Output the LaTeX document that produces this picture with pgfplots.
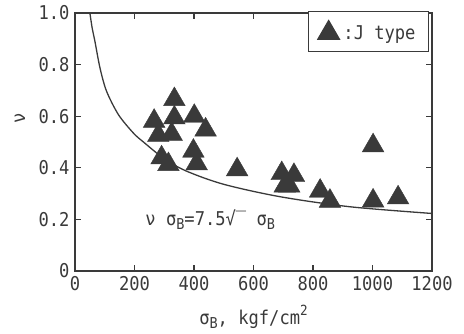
\documentclass[border=0pt]{standalone}
\usepackage{fontspec}
\setmainfont[FakeStretch=0.9]{DejaVu Sans Mono}
\usepackage{pgfplots}
\pgfplotsset{compat=1.18}
\definecolor{ink}{RGB}{58,58,58}
\newcommand{\lf}{\fontsize{19bp}{21bp}\selectfont}
\newcommand{\sub}[1]{\raisebox{-0.22em}{\fontsize{15bp}{15bp}\selectfont #1}}
\newcommand{\sups}[1]{\raisebox{0.5em}{\fontsize{14bp}{14bp}\selectfont #1}}
\begin{document}
\begin{tikzpicture}
\useasboundingbox (-75bp,-63bp) rectangle (389bp,271bp);
\begin{axis}[
  at={(0,0)}, anchor=south west,
  scale only axis, width=357bp, height=258bp,
  xmin=0, xmax=1200, ymin=0, ymax=1,
  xtick={0,200,400,600,800,1000,1200},
  xticklabels={0,200,400,600,800,1000,1200},
  ytick={0,0.2,0.4,0.6,0.8,1.0},
  yticklabels={0,0.2,0.4,0.6,0.8,1.0},
  tick align=inside, major tick length=6bp,
  axis line style={ink, line width=1.6bp},
  every tick/.style={ink, line width=1.2bp},
  tick label style={text=ink, font=\lf},
  /pgf/number format/assume math mode=true,
  xticklabel style={yshift=-2bp},
  yticklabel style={xshift=-2bp},
  xlabel={σ\sub{B}, kgf/cm\sups{2}},
  xlabel style={at={(axis description cs:0.5,-0.208)}, anchor=base, font=\lf, text=ink},
  ylabel={ν},
  ylabel style={at={(axis description cs:-0.154,0.593)}, anchor=center, font=\lf, text=ink},
  legend style={at={(rel axis cs:0.992,1.008)}, anchor=north east, draw=ink,
    line width=1.2bp, font=\lf, text=ink, inner xsep=9bp, inner ysep=9bp,
    fill=white, nodes={inner xsep=4bp}},
  legend cell align=left,
]
\addplot[ink, line width=1.3bp, smooth, forget plot] coordinates {
(50,1.0) (58,0.94) (67,0.89) (84,0.787) (106,0.697) (146,0.606) (196,0.535)
(230,0.50) (300,0.435) (375,0.387) (500,0.336) (689,0.288) (924,0.249) (1200,0.223)
};
\addplot[only marks, mark=triangle*, mark size=12.5bp, ink, fill=ink] coordinates {
(334,0.665) (266,0.581) (280,0.526) (334,0.594) (325,0.53) (401,0.60) (439,0.547)
(291,0.439) (314,0.413) (398,0.465) (409,0.416) (545,0.393)
(695,0.378) (736,0.371) (705,0.33) (720,0.33) (824,0.31) (857,0.271)
(1002,0.486) (1002,0.272) (1086,0.284)
};
\addlegendentry{:J type}
\node[anchor=base west, font=\lf, text=ink] at (axis cs:225,0.178)
  {ν σ\sub{B}=7.5√‾ σ\sub{B}};
\end{axis}
\end{tikzpicture}
\end{document}
